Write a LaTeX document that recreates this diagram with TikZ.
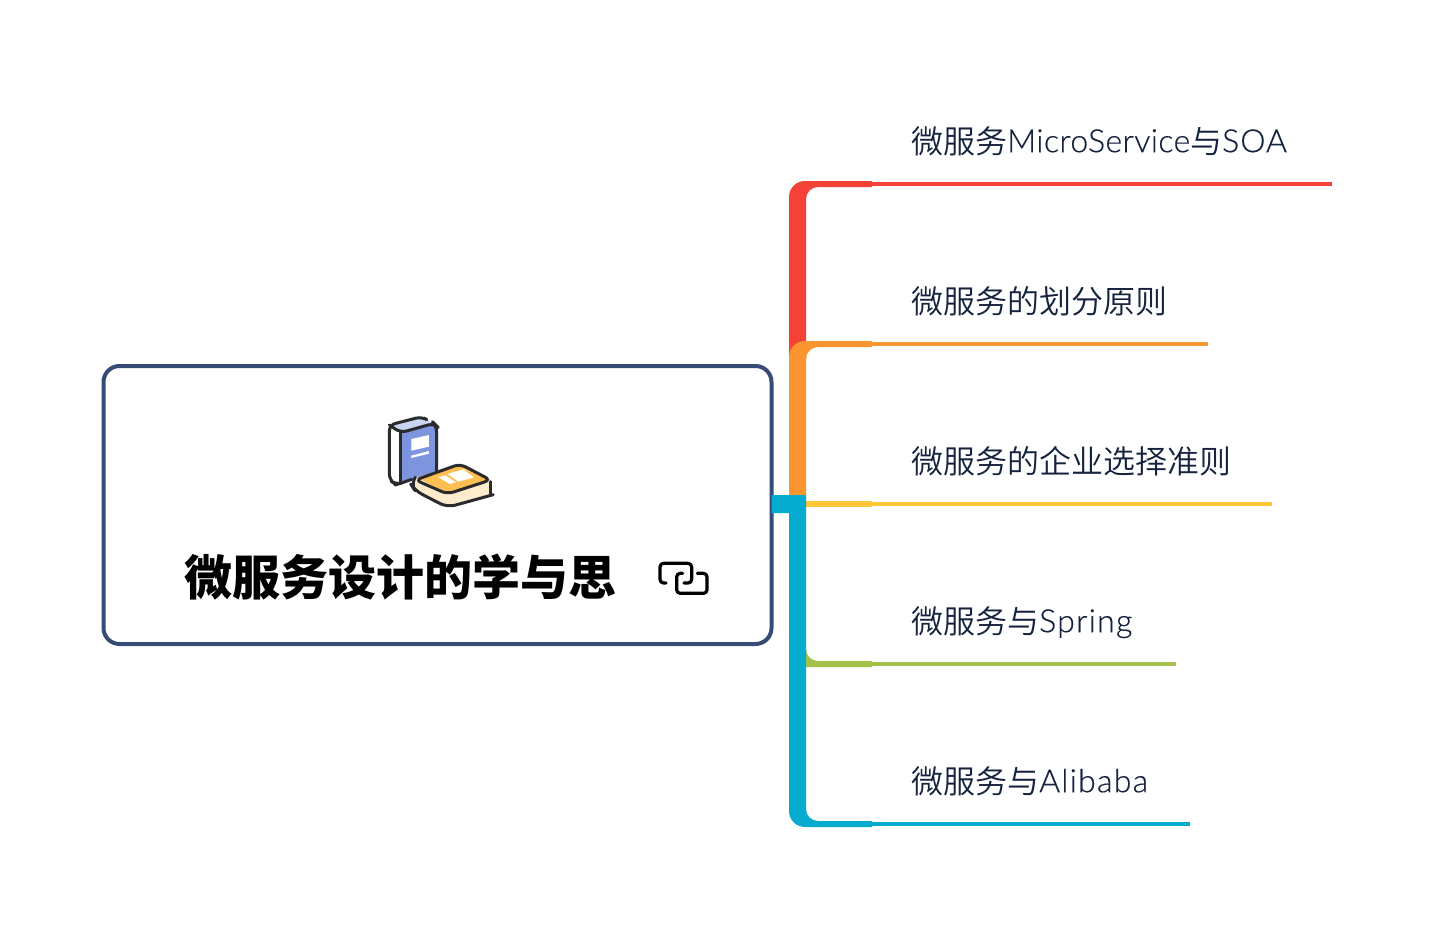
\documentclass[tikz,border=0pt]{standalone}
\usepackage{fontspec}
\setmainfont{Lato Light}[FakeBold=0.4]
\newfontfamily\latm{Lato Light}[FakeBold=0.4,LetterSpace=1.3]
\newfontfamily\lats{Lato Light}[FakeBold=0.4,LetterSpace=3]
\newfontfamily\latsp{Lato Light}[FakeBold=0.4,LetterSpace=4]
\newfontfamily\cjk{Noto Sans CJK SC DemiLight}
\newfontfamily\cjkb{Noto Sans CJK SC}
\definecolor{cred}{HTML}{F44336}
\definecolor{corange}{HTML}{FB9530}
\definecolor{cyellow}{HTML}{FFC636}
\definecolor{cgreen}{HTML}{A4C24A}
\definecolor{cblue}{HTML}{06ABCF}
\definecolor{cbox}{HTML}{364C76}
\definecolor{ctext}{HTML}{15233F}
\definecolor{cink}{HTML}{2B2B2E}
\definecolor{cpale}{HTML}{CAD5F2}
\definecolor{ccover}{HTML}{7D94DE}
\definecolor{ccream}{HTML}{FFECCD}
\definecolor{cgold}{HTML}{FEBE52}
\newcommand{\branchshape}[2]{% top y, lower y of the stem
  (789,#2) -- (789,#1+16) arc[start angle=180,end angle=270,radius=16] -- (872,#1) -- (872,#1+6) -- (818,#1+6)
  arc[start angle=270,end angle=180,radius=12] -- (806,#2) -- cycle}
\newcommand{\latup}[1]{\raisebox{0.8pt}{#1}}
\tikzset{
  label text/.style={anchor=base west,inner sep=0pt,text=ctext,font=\fontsize{32}{32}\selectfont},
  thin branch/.style={line width=4pt},
  ink/.style={draw=cink,line width=3pt,line join=round,line cap=round},
  chain/.style={draw=black,line width=3.2pt,line cap=round,line join=round,rounded corners=3.5pt}
}
\begin{document}
\begin{tikzpicture}[x=1pt,y=-1pt]
\useasboundingbox (0,0) rectangle (1432,926);
\fill[white] (0,0) rectangle (1432,926);

% root box
\node[draw=cbox,line width=4pt,rounded corners=16pt,minimum width=668pt,minimum height=278pt,inner sep=0pt,outer sep=0pt,anchor=north west,fill=white] (root) at (103.5,366) {};
\node[anchor=base west,inner sep=0pt,text=black,font=\fontsize{48}{48}\selectfont] (title) at (184,595) {\cjkb\bfseries 微服务设计的学与思};

% labels
\node[label text] (n1) at (911,153) {{\cjk 微服务}\latup{\latm MicroService}{\cjk 与}\latup{\lats SOA}};
\node[label text] (n2) at (911,313) {\cjk 微服务的划分原则};
\node[label text] (n3) at (911,473) {\cjk 微服务的企业选择准则};
\node[label text] (n4) at (911,633) {{\cjk 微服务与}\latup{\latsp Spring}};
\node[label text] (n5) at (911,793) {{\cjk 微服务与}\latup{\latsp Alibaba}};

% connector ends
\coordinate (e1a) at (872,184); \coordinate (e1b) at (1332,184);
\coordinate (e2a) at (872,344); \coordinate (e2b) at (1208,344);
\coordinate (e3a) at (872,504); \coordinate (e3b) at (1272,504);
\coordinate (e4a) at (872,664); \coordinate (e4b) at (1176,664);
\coordinate (e5a) at (872,824); \coordinate (e5b) at (1190,824);

% branches
\fill[cred] \branchshape{181}{360};
\draw[cred,thin branch] (e1a) -- (e1b);
\fill[corange] \branchshape{341}{500};
\draw[corange,thin branch] (e2a) -- (e2b);
\fill[cyellow] (806,501) rectangle (872,507);
\draw[cyellow,thin branch] (e3a) -- (e3b);
\fill[cgreen] (800,649) -- (806,649) arc[start angle=180,end angle=90,radius=12] -- (872,661) -- (872,667) -- (800,667) -- cycle;
\draw[cgreen,thin branch] (e4a) -- (e4b);
\fill[cblue] (root.east |- 0,495) -- (806,495) -- (806,809) arc[start angle=180,end angle=90,radius=12] -- (872,821) -- (872,827) -- (805,827)
   arc[start angle=90,end angle=180,radius=16] -- (789,513) -- (root.east |- 0,513) -- cycle;
\draw[cblue,thin branch] (e5a) -- (e5b);

% books icon (reference zoom coordinates)
\begin{scope}[shift={(370,400)},x=0.3333pt,y=-0.3333pt]
  \fill[white] (58,75) -- (92,98) -- (92,248) -- (75,252) -- (60,240) -- cycle;
  \fill[cpale] (58,75) -- (155,50) -- (192,72) -- (92,98) -- cycle;
  \fill[ccover] (92,98) -- (185,72) -- (198,80) -- (198,215) -- (125,238) -- (92,248) -- cycle;
  \fill[white] (124,117) -- (177,105) -- (177,140) -- (124,152) -- cycle;
  \fill[white] (124,167) -- (177,153) -- (177,161) -- (124,174) -- cycle;
  \draw[ink,rounded corners=6pt] (125,238) -- (92,250) -- (78,254) -- (58,240) -- (58,75) -- (155,50) -- (162,54);
  \draw[ink,rounded corners=6pt] (58,75) -- (92,98) -- (192,70) -- (200,78) -- (200,215);
  \draw[ink] (92,98) -- (92,250);
  \fill[ccream] (127,245) -- (138,240) -- (232,280) -- (362,242) -- (362,282) -- (232,318) -- (130,270) -- cycle;
  \fill[cgold] (140,232) -- (270,192) -- (360,238) -- (232,280) -- cycle;
  \fill[white] (205,232) -- (225,226) -- (258,247) -- (240,252) -- cycle;
  \fill[white] (232,222) -- (280,208) -- (312,232) -- (265,245) -- cycle;
  \draw[ink,rounded corners=6pt] (136,240) -- (270,192) -- (362,240) -- (232,282) -- cycle;
  \draw[ink,rounded corners=8pt] (136,232) -- (122,252) -- (135,272) -- (232,322) -- (370,284);
  \draw[ink] (362,245) -- (362,280);
\end{scope}

% link icon
\begin{scope}[shift={(640,550)},x=0.3333pt,y=-0.3333pt]
  \draw[chain] (78,99) -- (60,99) -- (60,40) -- (155,40) -- (155,99) -- (132,99);
  \draw[chain] (128,70) -- (110,70) -- (110,130) -- (201,130) -- (201,70) -- (172,70);
\end{scope}
\end{tikzpicture}
\end{document}
